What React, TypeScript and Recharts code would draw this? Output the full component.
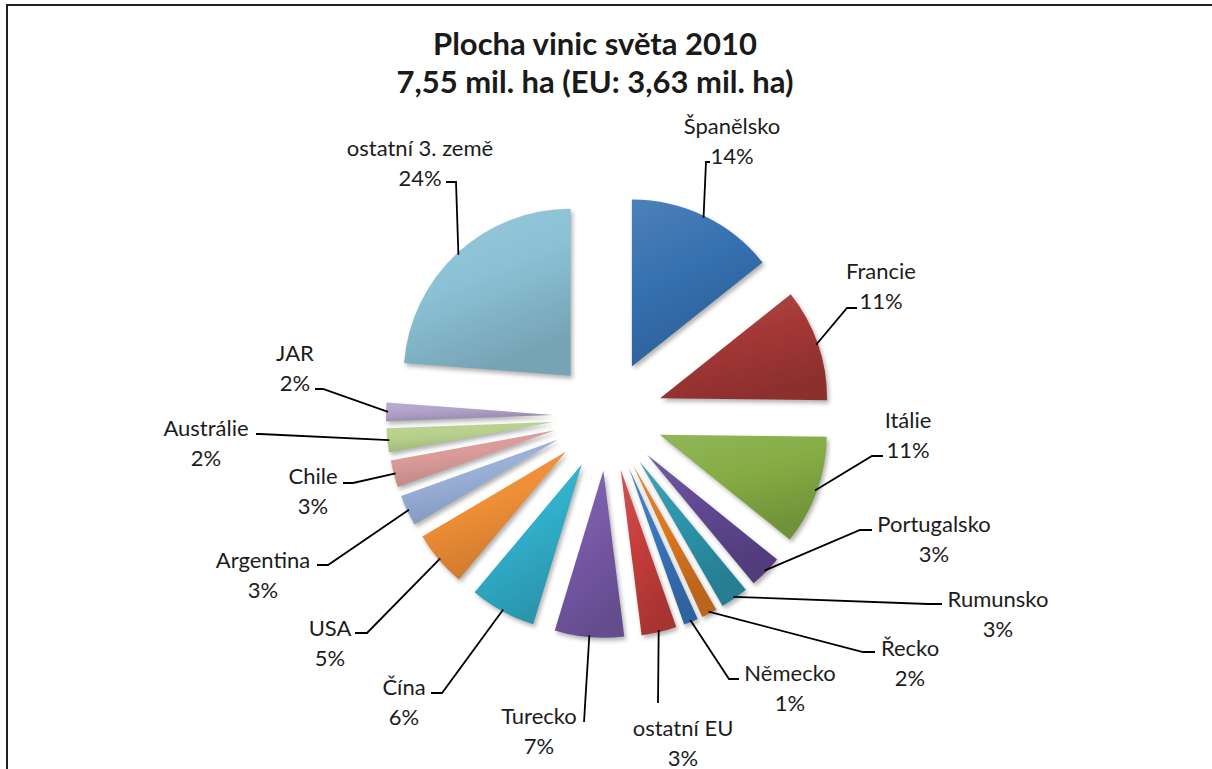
import React from "react";
import { PieChart, Pie, Cell } from "recharts";

const countries = [
  "Španělsko",
  "Francie",
  "Itálie",
  "Portugalsko",
  "Rumunsko",
  "Řecko",
  "Německo",
  "ostatní EU",
  "Turecko",
  "Čína",
  "USA",
  "Argentina",
  "Chile",
  "Austrálie",
  "JAR",
  "ostatní 3. země",
];

// share of world vineyard area, %
const shares = [14.3, 10.9, 10.6, 3.2, 2.7, 1.5, 1.4, 3.4, 6.7, 6.4, 5.4, 3.0, 2.6, 2.3, 1.8, 23.8];

const colors = [
  "#3570B0",
  "#A53836",
  "#84AC43",
  "#604791",
  "#2C94AA",
  "#DC7620",
  "#3775BC",
  "#C63D3B",
  "#7759A8",
  "#31AFCA",
  "#EF8E36",
  "#98AFD8",
  "#DA9B99",
  "#B6D08B",
  "#B0A1CA",
  "#8BC1D5",
];

// manual label placement like in the excel original:
// text centre x, first line y, leader end x, leader end y, elbow stub
const labelSpots: number[][] = [
  [732, 125, 710, 162, -4],
  [881, 270, 857, 308, -10],
  [908, 419, 883, 456, -11],
  [934, 523, 872, 530, -12],
  [998, 598, 942, 604, -14],
  [910, 647, 875, 652, -12],
  [790, 672, 739, 679, -10],
  [683, 727, 658, 703, 0],
  [539, 715, 584, 722, 0],
  [404, 686, 431, 693, 11],
  [330, 627, 355, 633, 12],
  [263, 559, 317, 565, 11],
  [313, 475, 343, 483, 10],
  [206, 427, 256, 434, 4],
  [295, 352, 315, 389, 8],
  [420, 147, 446, 182, 10],
];

const W = 1212;
const H = 769;
const CX = 608;
const CY = 416;
const R = 167;
const EXPLODE = 55;
const RAD = Math.PI / 180;

const data = countries.map((name, i) => ({ name, value: shares[i] }));
const total = shares.reduce((a, b) => a + b, 0);
// middle of each slice, degrees clockwise from 12 o'clock
const mids = shares.map(
  (v, i) => ((shares.slice(0, i).reduce((a, b) => a + b, 0) + v / 2) / total) * 360
);

const shade = (hex: string, amt: number) => {
  const n = parseInt(hex.slice(1), 16);
  const ch = [(n >> 16) & 255, (n >> 8) & 255, n & 255].map((c) =>
    Math.round(amt >= 0 ? c + (255 - c) * amt : c * (1 + amt))
  );
  return "#" + ch.map((c) => c.toString(16).padStart(2, "0")).join("");
};

const makeLabel = (slice: number) => (props: any) => {
  if (props.index !== slice) return <g />;
  const { cx, cy, outerRadius, midAngle } = props;
  const px = cx + (outerRadius - 2) * Math.cos(-midAngle * RAD);
  const py = cy + (outerRadius - 2) * Math.sin(-midAngle * RAD);
  const [tx, ty, ax, ay, stub] = labelSpots[slice];
  const txt = { fontFamily: "Lato, 'Open Sans', sans-serif", fontSize: 22, fill: "#1c1c1c" };
  return (
    <g>
      <polyline
        points={`${px},${py} ${ax + stub},${ay} ${ax},${ay}`}
        fill="none"
        stroke="#000"
        strokeWidth={1.8}
      />
      <text x={tx} y={ty} textAnchor="middle" dominantBaseline="central" {...txt}>
        {countries[slice]}
      </text>
      <text x={tx} y={ty + 30} textAnchor="middle" dominantBaseline="central" {...txt}>
        {Math.round(shares[slice])}%
      </text>
    </g>
  );
};

export default function App() {
  return (
    <div style={{ position: "absolute", left: 0, top: 0, width: W, height: H, background: "#fff", overflow: "hidden" }}>
      <style>{".recharts-pie-sector path{filter:drop-shadow(2px 3px 2px rgba(0,0,0,0.3))}"}</style>
      <div
        style={{
          position: "absolute",
          left: 6,
          top: 4,
          width: W,
          height: H,
          borderLeft: "2px solid #231f20",
          borderTop: "2px solid #231f20",
        }}
      />
      <div
        style={{
          position: "absolute",
          left: 0,
          top: 24,
          width: 1190,
          textAlign: "center",
          fontFamily: "Lato, sans-serif",
          fontWeight: 700,
          fontSize: 31,
          lineHeight: "38px",
          color: "#1a1a1a",
        }}
      >
        <div>Plocha vinic světa 2010</div>
        <div>7,55 mil. ha (EU: 3,63 mil. ha)</div>
      </div>
      <div style={{ position: "absolute", left: 0, top: 0 }}>
        <PieChart width={W} height={H} margin={{ top: 0, right: 0, bottom: 0, left: 0 }}>
          <defs>
            {colors.map((c, i) => (
              <linearGradient key={i} id={`g${i}`} x1="0" y1="0" x2="0.4" y2="1">
                <stop offset="0%" stopColor={shade(c, 0.12)} />
                <stop offset="50%" stopColor={c} />
                <stop offset="100%" stopColor={shade(c, -0.15)} />
              </linearGradient>
            ))}
          </defs>
          {countries.map((_, s) => {
            const a = mids[s] * RAD;
            return (
              <Pie
                key={s}
                data={data}
                dataKey="value"
                nameKey="name"
                cx={CX + EXPLODE * Math.sin(a)}
                cy={CY - EXPLODE * Math.cos(a)}
                innerRadius={0}
                outerRadius={R}
                startAngle={90}
                endAngle={-270}
                stroke="none"
                isAnimationActive={false}
                label={makeLabel(s)}
                labelLine={false}
              >
                {data.map((_, i) => (
                  <Cell key={i} fill={i === s ? `url(#g${i})` : "transparent"} stroke="none" />
                ))}
              </Pie>
            );
          })}
        </PieChart>
      </div>
    </div>
  );
}
